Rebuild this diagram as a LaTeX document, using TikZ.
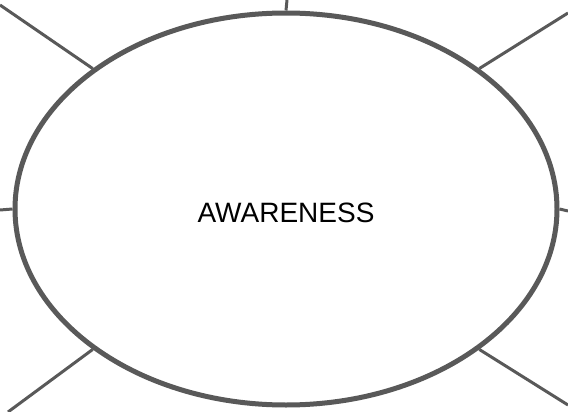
\documentclass[tikz,border=0pt]{standalone}
\usepackage{fontspec}
\setmainfont{Liberation Sans}
\usetikzlibrary{shapes.geometric}
\definecolor{spokegray}{RGB}{89,89,89}

\begin{document}
\begin{tikzpicture}[
    x=1pt, y=-1pt,
    hub/.style={ellipse, draw=spokegray, line width=5pt, fill=white,
                minimum width=542pt, minimum height=392pt, inner sep=0pt,
                text height=26pt, text depth=0pt,
                font=\fontsize{28}{30}\selectfont},
    spoke/.style={draw=spokegray, line width=3pt}
  ]
    % frame
    \useasboundingbox (0,0) rectangle (568,412);

    % centre
    \node[hub] (aware) at (286,209) {AWARENESS};

    % outer ends of the spokes
    \coordinate (tl) at (0,5);
    \coordinate (tp) at (287,0);
    \coordinate (tr) at (568,13);
    \coordinate (lf) at (0,210);
    \coordinate (rt) at (568,211);
    \coordinate (bl) at (8,412);
    \coordinate (br) at (568,405);

    % Spokes
    \draw[spoke] (tl) -- (aware.144);
    \draw[spoke] (tp) -- (aware.north);
    \draw[spoke] (tr) -- (aware.36);
    \draw[spoke] (lf) -- (aware.west);
    \draw[spoke] (rt) -- (aware.east);
    \draw[spoke] (bl) -- (aware.216);
    \draw[spoke] (br) -- (aware.324);
  \end{tikzpicture}
\end{document}
